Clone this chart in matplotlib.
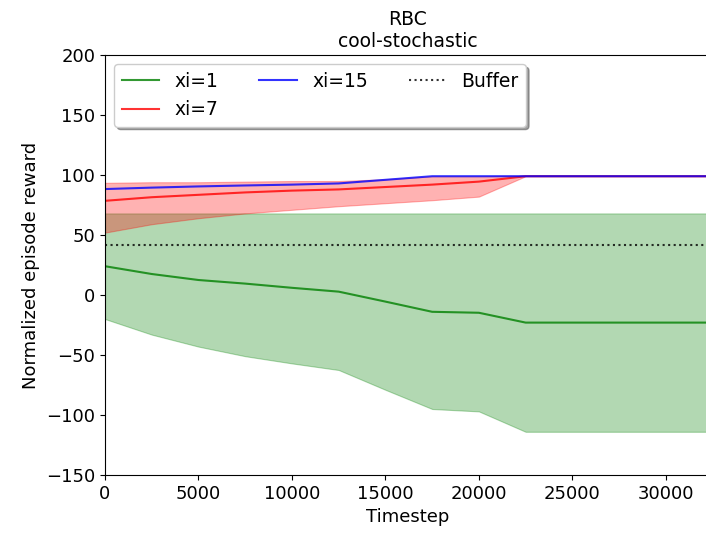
import matplotlib
matplotlib.use("Agg")
import matplotlib.pyplot as plt

# RBC cool-stochastic: normalized episode reward vs timestep

timesteps = [0, 2500, 5000, 7500, 10000, 12500, 15000, 17500, 20000, 22500,
             25000, 27500, 30000, 32500]

xi1_mean = [24, 17.5, 12.5, 9.5, 6, 2.8, -5.5, -14, -14.8, -23, -23, -23, -23, -23]
xi1_low = [-20, -33, -43, -51, -57, -62.5, -79, -95, -97, -114, -114, -114, -114, -114]
xi1_high = [68, 68, 68, 68, 68, 68, 68, 68, 68, 68, 68, 68, 68, 68]

xi7_mean = [78.5, 81.5, 83.5, 85.5, 87, 88, 90, 92, 94.5, 99, 99, 99, 99, 99]
xi7_low = [52, 59, 64, 68, 71, 74, 76.5, 79, 82, 99, 99, 99, 99, 99]
xi7_high = [93.5, 94, 94, 94.5, 95, 95, 96.5, 99, 99, 99.5, 99.5, 99.5, 99.5, 99.5]

xi15_mean = [88.3, 89.5, 90.5, 91.3, 92, 93, 96, 99, 99, 99, 99, 99, 99, 99]

buffer_value = 42

series = [
    ("xi=1", xi1_mean, xi1_low, xi1_high, "green"),
    ("xi=7", xi7_mean, xi7_low, xi7_high, "red"),
    ("xi=15", xi15_mean, None, None, "blue"),
]


def main():
    fig = plt.figure(figsize=(7.06, 5.37), dpi=100)
    ax = fig.add_axes([0.1487, 0.1155, 0.858, 0.782])

    for label, mean, low, high, color in series:
        ax.plot(timesteps, mean, color=color, alpha=0.8, linewidth=1.5, label=label)
        if low is not None:
            ax.fill_between(timesteps, low, high, color=color, alpha=0.3, linewidth=0.8)

    ax.axhline(buffer_value, color="k", linestyle=":", linewidth=1.5, alpha=0.8, label="Buffer")

    ax.set_xlim(0, 32400)
    ax.set_ylim(-150, 200)
    ax.set_xticks(range(0, 30001, 5000))
    ax.set_yticks(range(-150, 201, 50))
    ax.tick_params(labelsize=13)

    ax.set_xlabel("Timestep", fontsize=13)
    ax.set_ylabel("Normalized episode reward", fontsize=13)
    ax.set_title("RBC\ncool-stochastic", fontsize=13.5)

    ax.legend(loc="upper left", ncol=3, fontsize=13.5, shadow=True, fancybox=True,
              framealpha=1, columnspacing=2.2)

    fig.savefig("out.png", dpi=100)


if __name__ == "__main__":
    main()
